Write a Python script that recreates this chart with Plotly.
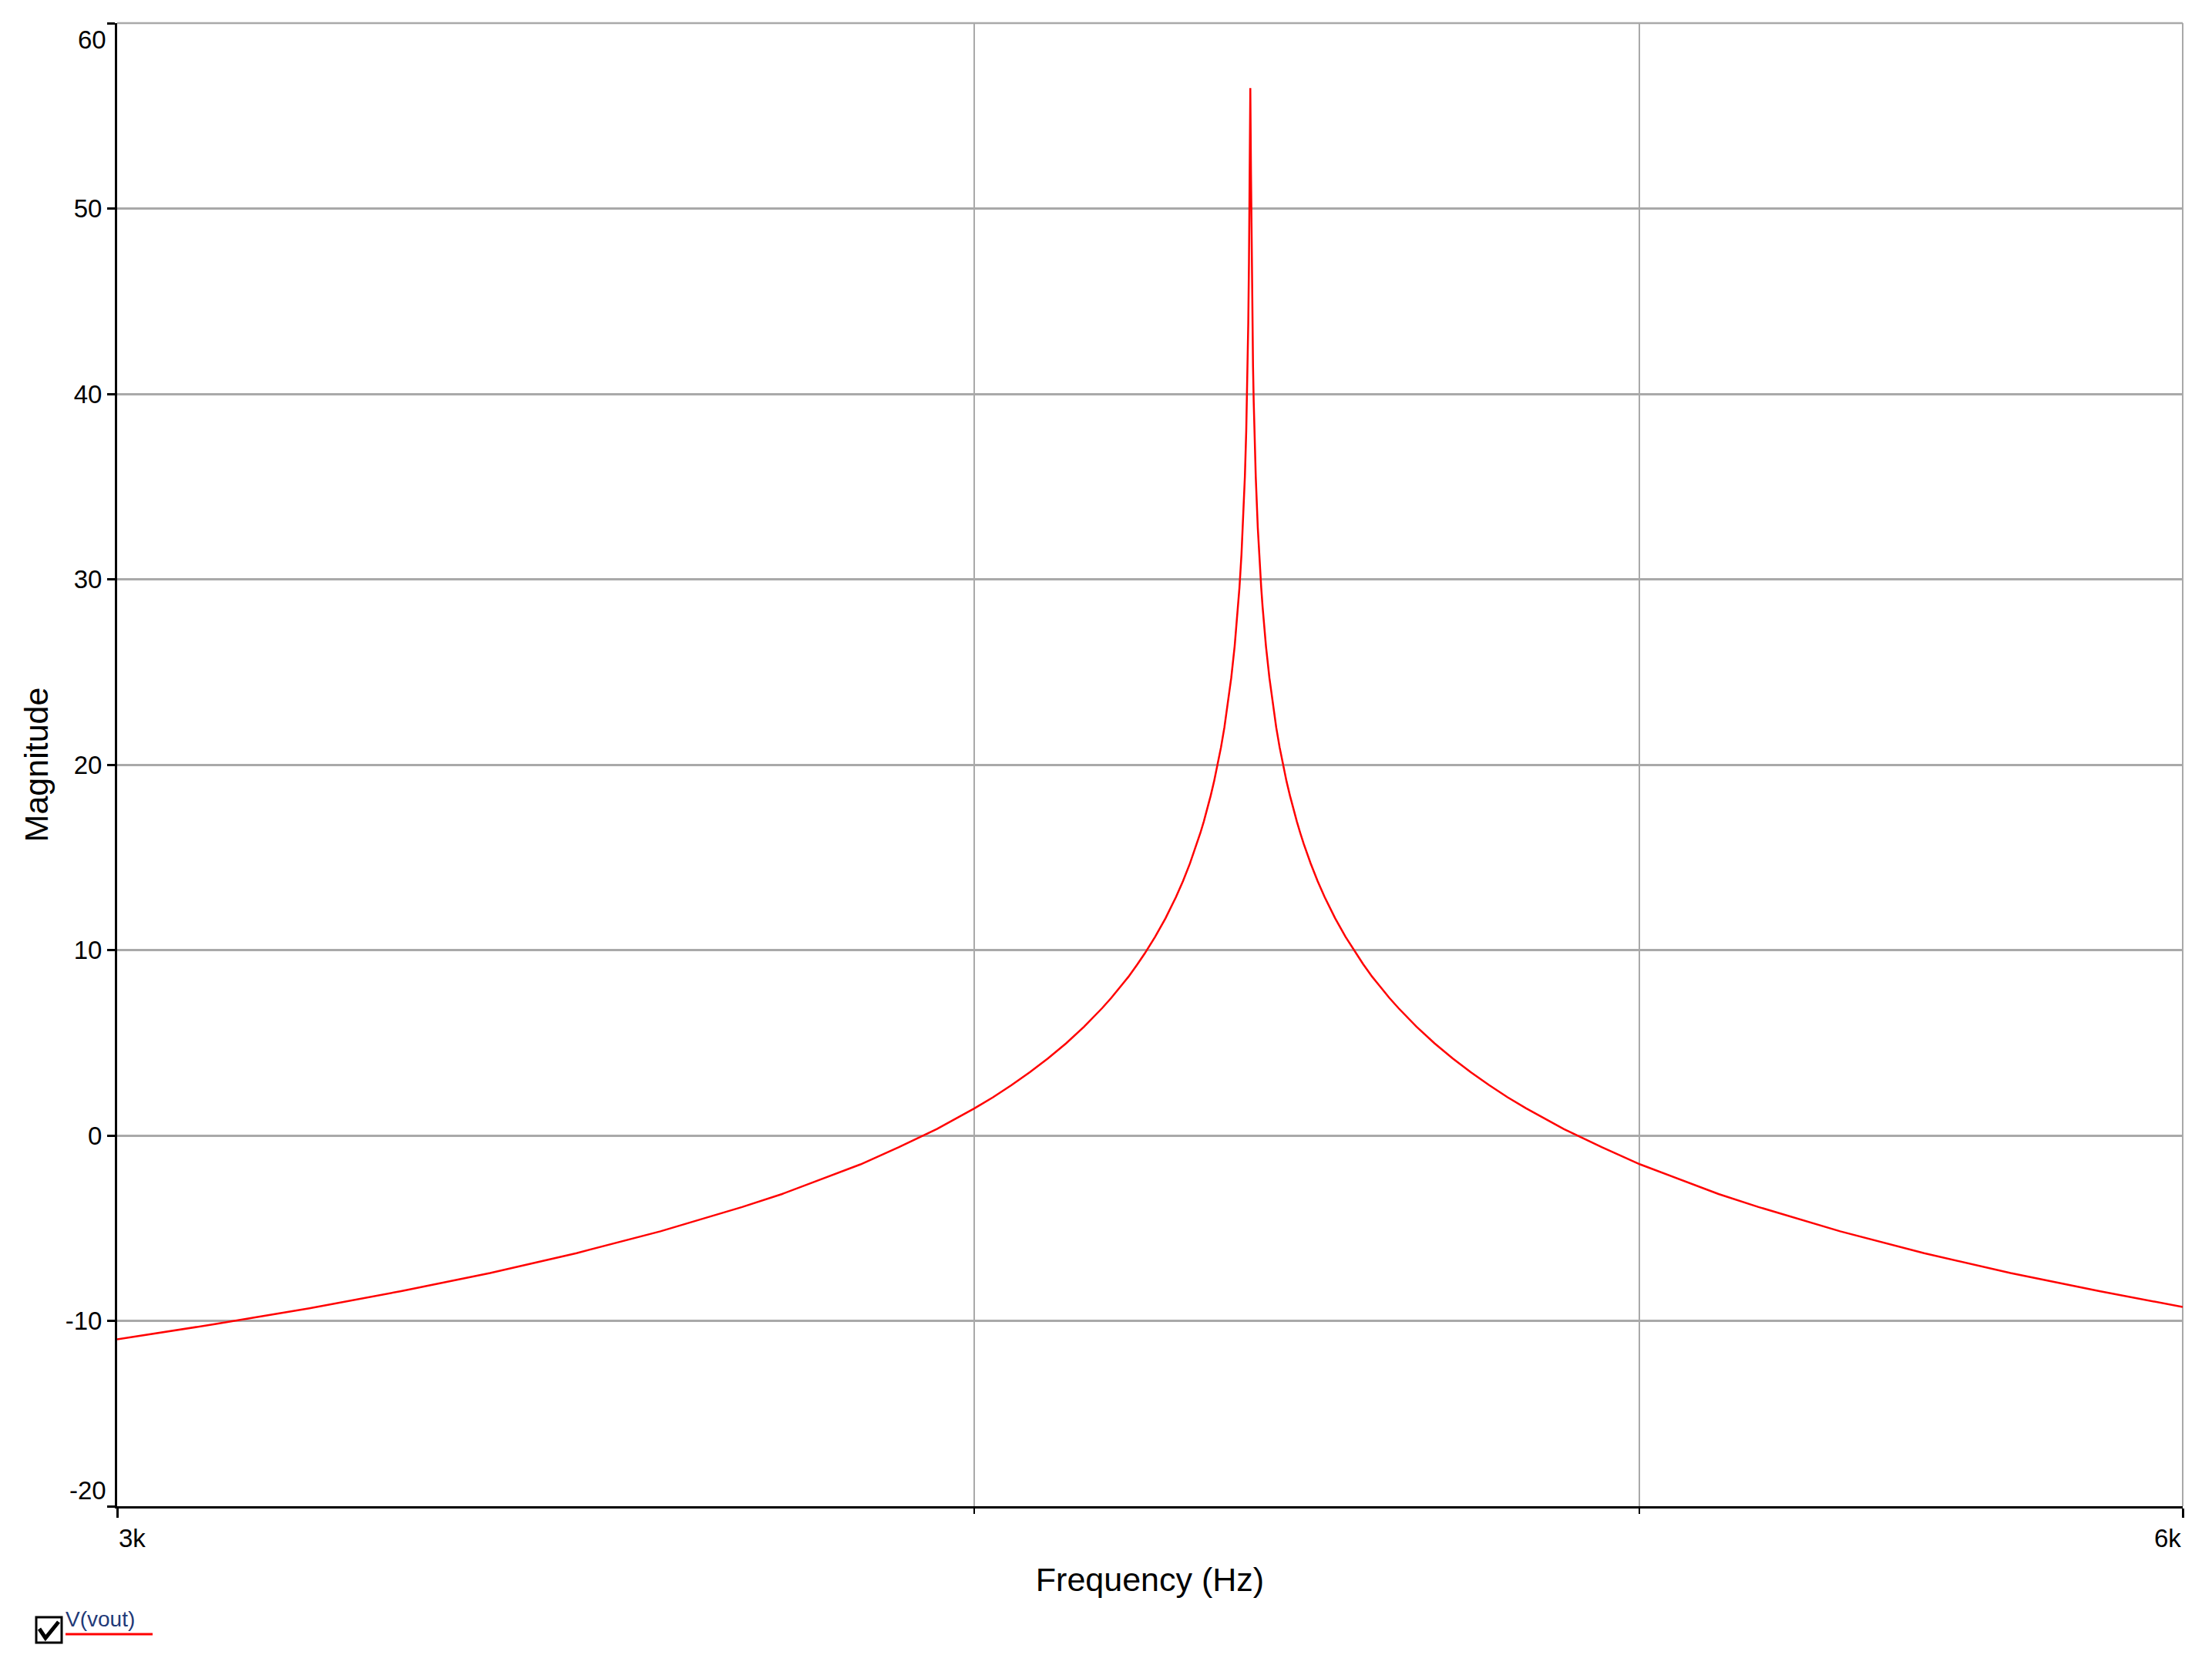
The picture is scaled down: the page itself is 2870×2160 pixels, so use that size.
import numpy as np
import plotly.graph_objects as go

# frequency response (Hz, dB)
freq = [3000, 3100, 3200, 3300, 3400, 3500, 3600, 3700, 3750, 3800,
        3850, 3900, 3950, 4000, 4025, 4050, 4075, 4100, 4125, 4150,
        4162, 4175, 4188, 4200, 4212, 4225, 4235, 4250,
        4265, 4280, 4290, 4300, 4310, 4315, 4320, 4325, 4330, 4335,
        4340, 4345, 4350, 4355, 4360, 4365, 4368, 4370, 4372, 4375,
        4377, 4380, 4382, 4383, 4384, 4385, 4386, 4387, 4388,
        4389.0, 4390.0, 4391.0, 4392.0, 4393.0, 4394.0, 4396.0, 4399.0, 4401.0, 4404.1,
        4406.1, 4408.1, 4411.1, 4416.2, 4421.2, 4426.3, 4431.4, 4436.5, 4441.6, 4446.8,
        4451.9, 4457.1, 4462.2, 4467.4, 4477.8, 4488.2, 4498.7, 4514.6, 4530.5, 4546.5,
        4557.3, 4571.4, 4584.4, 4597.5, 4611.9, 4626.3, 4639.6, 4667.8, 4696.2, 4725.0,
        4754.2, 4783.7, 4813.6, 4874.6, 4937.1, 5001.2, 5067.0, 5134.6,
        5203.9, 5348.5, 5501.3, 5663.1, 5834.7, 6000]
mag = [-11.00, -10.18, -9.32, -8.40, -7.42, -6.35, -5.17, -3.86, -3.16, -2.37,
       -1.56, -0.63, 0.35, 1.46, 2.06, 2.71, 3.41, 4.16, 4.97, 5.87,
       6.33, 6.86, 7.42, 7.97, 8.55, 9.24, 9.80, 10.71,
       11.72, 12.87, 13.72, 14.67, 15.72, 16.31, 16.93, 17.60, 18.32, 19.11,
       19.97, 20.93, 22.01, 23.24, 24.68, 26.39, 27.60, 28.52, 29.54, 31.34,
       32.79, 35.54, 38.01, 39.57, 41.46, 43.86, 47.09, 51.83, 56.50,
       51.83, 47.09, 43.86, 41.46, 39.57, 38.01, 35.54, 32.79, 31.34, 29.54,
       28.52, 27.60, 26.39, 24.68, 23.24, 22.01, 20.93, 19.97, 19.11, 18.32,
       17.60, 16.93, 16.31, 15.72, 14.67, 13.72, 12.87, 11.72, 10.71, 9.80,
       9.24, 8.55, 7.97, 7.42, 6.86, 6.33, 5.87, 4.97, 4.16, 3.41,
       2.71, 2.06, 1.46, 0.35, -0.63, -1.56, -2.37, -3.16,
       -3.86, -5.17, -6.35, -7.42, -8.40, -9.25]

x_ticks = [3000, 6000]
x_ticktext = ["3k", "6k"]
x_minor = [4000, 5000]
y_ticks = [-20, -10, 0, 10, 20, 30, 40, 50, 60]
series_name = "V(vout)"

RED = "#ff0000"
GRID = "#a9a9a9"
FONT = "Liberation Sans, Arial, sans-serif"

# the page body has an 8px margin, so the figure is shrunk by that much
OFF = 8
W, H = 2870 - OFF, 2160 - 2 * OFF
L, R, T, B = 152 - OFF, 38, 30 - OFF, 198
pw, ph = W - L - R, H - T - B


# page pixel -> paper coordinate helpers (for the legend drawing)
def px(xp):
    return (xp - OFF - L) / pw


def py(yp):
    return (OFF + H - B - yp) / ph


fig = go.Figure()
fig.add_trace(go.Scatter(x=freq, y=mag, mode="lines", name=series_name,
                         line=dict(color=RED, width=2.5)))

fig.update_xaxes(type="log",
                 range=[np.log10(x_ticks[0]), np.log10(x_ticks[-1])],
                 tickvals=x_ticks,
                 showticklabels=False,
                 ticks="outside", ticklen=12, tickwidth=3, tickcolor="black",
                 showline=True, linecolor="black", linewidth=3,
                 showgrid=True, gridcolor=GRID, gridwidth=1.5,
                 minor=dict(tickvals=x_minor, ticks="outside", ticklen=7,
                            tickwidth=2, tickcolor="black",
                            showgrid=True, gridcolor=GRID, gridwidth=1.5),
                 zeroline=False,
                 title=dict(text="Frequency (Hz)", standoff=66,
                            font=dict(size=43, color="black", family=FONT)))

y_text = ["" if v in (y_ticks[0], y_ticks[-1]) else str(v) for v in y_ticks]
fig.update_yaxes(range=[y_ticks[0], y_ticks[-1]],
                 tickvals=y_ticks, ticktext=y_text,
                 ticks="outside", ticklen=10, tickwidth=3, tickcolor="black",
                 tickfont=dict(size=33, color="black", family=FONT),
                 showline=True, linecolor="black", linewidth=3,
                 showgrid=True, gridcolor=GRID, gridwidth=2.5,
                 zeroline=False,
                 title=dict(text="Magnitude", standoff=9,
                            font=dict(size=43, color="black", family=FONT)))

# edge labels, kept inside the frame like the original
ann = [
    dict(x=np.log10(x_ticks[0]), xref="x", y=0, yref="paper",
         text=x_ticktext[0], xanchor="left", yanchor="middle", yshift=-41),
    dict(x=np.log10(x_ticks[-1]), xref="x", y=0, yref="paper",
         text=x_ticktext[-1], xanchor="right", yanchor="middle", yshift=-41),
    dict(x=0, xref="paper", y=y_ticks[-1], yref="y", text=str(y_ticks[-1]),
         xanchor="right", yanchor="middle", xshift=-12, yshift=-21),
    dict(x=0, xref="paper", y=y_ticks[0], yref="y", text=str(y_ticks[0]),
         xanchor="right", yanchor="middle", xshift=-12, yshift=21),
]
for a in ann:
    a.update(showarrow=False, font=dict(size=33, color="black", family=FONT))

# legend entry: checkbox + name underlined in the trace colour
ann.append(dict(x=px(83), xref="paper", y=py(2100), yref="paper",
                text=series_name, showarrow=False, xanchor="left", yanchor="middle",
                font=dict(size=28, color="#1f3a78", family=FONT)))

shapes = [
    dict(type="line", xref="paper", yref="paper", x0=0, x1=1, y0=1, y1=1,
         line=dict(color=GRID, width=2.5), layer="below"),
    dict(type="line", xref="paper", yref="paper", x0=1, x1=1, y0=0, y1=1,
         line=dict(color=GRID, width=2), layer="below"),
    dict(type="rect", xref="paper", yref="paper", x0=px(47), x1=px(80),
         y0=py(2131), y1=py(2098), line=dict(color="black", width=3)),
    dict(type="path", xref="paper", yref="paper",
         path="M %f,%f L %f,%f L %f,%f" % (px(51), py(2113), px(59), py(2125),
                                           px(76), py(2104)),
         line=dict(color="black", width=5)),
    dict(type="line", xref="paper", yref="paper", x0=px(85), x1=px(198),
         y0=py(2120), y1=py(2120), line=dict(color=RED, width=3)),
]

fig.update_layout(width=W, height=H,
                  margin=dict(l=L, r=R, t=T, b=B),
                  plot_bgcolor="white", paper_bgcolor="white",
                  showlegend=False,
                  font=dict(family=FONT, color="black"),
                  annotations=ann, shapes=shapes)

fig.write_html("out.html")
